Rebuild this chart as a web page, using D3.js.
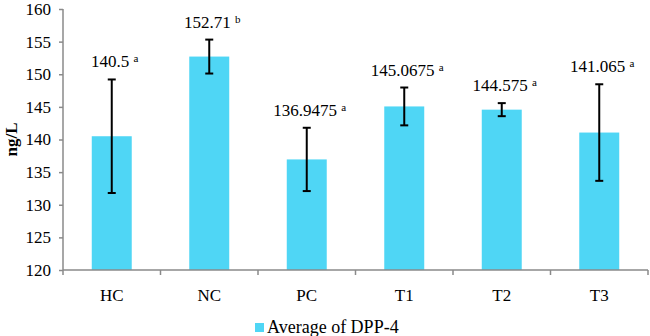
<!DOCTYPE html>
<html>
<head>
<meta charset="utf-8">
<script src="https://cdn.jsdelivr.net/npm/d3@7"></script>
<style>
  body { margin: 0; background: #fff; }
  svg text { font-family: "Liberation Serif", "Times New Roman", serif; }
</style>
</head>
<body>
<script>
const groups = ['HC', 'NC', 'PC', 'T1', 'T2', 'T3']
const means = [140.5, 152.71, 136.9475, 145.0675, 144.575, 141.065]
const errors = [8.7, 2.6, 4.85, 2.9, 1.0, 7.4]
const letters = ['a', 'b', 'a', 'a', 'a', 'a']
const yTicks = [120, 125, 130, 135, 140, 145, 150, 155, 160]
const seriesName = 'Average of DPP-4'

const W = 650, H = 336
const margin = { top: 9, right: 2, bottom: 66, left: 63 }
const width = W - margin.left - margin.right
const height = H - margin.top - margin.bottom
const barColor = '#4fd6f5'
const axisColor = '#8a8a8a'
const serif = '"Liberation Serif", "Times New Roman", serif'

const svg = d3.select('body').append('svg')
  .attr('width', W)
  .attr('height', H)
  .attr('font-family', serif)
const g = svg.append('g')
  .attr('transform', `translate(${margin.left} ${margin.top})`)

const x = d3.scaleBand()
  .domain(groups)
  .range([0, width])
  .paddingInner(0.59)
  .paddingOuter(0.295)
const y = d3.scaleLinear()
  .domain([120, 160])
  .range([height, 0])

// bars
g.selectAll('.bar')
  .data(groups)
  .enter().append('rect')
  .attr('class', 'bar')
  .attr('x', d => x(d))
  .attr('width', x.bandwidth())
  .attr('y', (d, i) => y(means[i]))
  .attr('height', (d, i) => height - y(means[i]))
  .style('fill', barColor)

// axes
const yAxis = g.append('g')
  .call(d3.axisLeft(y).tickValues(yTicks).tickSize(4).tickPadding(8))
  .attr('font-family', serif)
yAxis.selectAll('text').style('font-size', '17px').style('fill', '#000')
yAxis.selectAll('line, path').style('stroke', axisColor).style('stroke-width', 1.5)
yAxis.select('.domain').attr('d', `M0,${height}V0`)

const step = x.step()
const xAxis = g.append('g')
  .attr('transform', `translate(0, ${height})`)
xAxis.append('line')
  .attr('x1', 0).attr('x2', width)
  .style('stroke', axisColor).style('stroke-width', 1.5)
xAxis.selectAll('.tk')
  .data(d3.range(groups.length + 1))
  .enter().append('line')
  .attr('x1', i => i * step).attr('x2', i => i * step)
  .attr('y1', 0).attr('y2', 5)
  .style('stroke', axisColor).style('stroke-width', 1.5)
xAxis.selectAll('.lbl')
  .data(groups)
  .enter().append('text')
  .attr('x', d => x(d) + x.bandwidth() / 2)
  .attr('y', 31)
  .attr('text-anchor', 'middle')
  .style('font-size', '17px')
  .text(d => d)

// error bars
const eb = g.selectAll('.err')
  .data(groups)
  .enter().append('g')
  .attr('transform', d => `translate(${x(d) + x.bandwidth() / 2}, 0)`)
  .style('stroke', '#000')
  .style('stroke-width', 2)
eb.append('line')
  .attr('y1', (d, i) => y(means[i] + errors[i]))
  .attr('y2', (d, i) => y(means[i] - errors[i]))
eb.append('line')
  .attr('x1', -4).attr('x2', 4)
  .attr('y1', (d, i) => y(means[i] + errors[i]))
  .attr('y2', (d, i) => y(means[i] + errors[i]))
eb.append('line')
  .attr('x1', -4).attr('x2', 4)
  .attr('y1', (d, i) => y(means[i] - errors[i]))
  .attr('y2', (d, i) => y(means[i] - errors[i]))

// value labels
const lbl = g.selectAll('.val')
  .data(groups)
  .enter().append('text')
  .attr('x', d => x(d) + x.bandwidth() / 2 + 3)
  .attr('y', (d, i) => y(means[i] + errors[i]) - 12)
  .attr('text-anchor', 'middle')
  .style('font-size', '17px')
lbl.append('tspan').text((d, i) => means[i] + ' ')
lbl.append('tspan')
  .attr('dy', -5)
  .style('font-size', '11px')
  .text((d, i) => letters[i])

// y title
svg.append('text')
  .attr('transform', `translate(17, ${margin.top + height / 2}) rotate(-90)`)
  .attr('text-anchor', 'middle')
  .style('font-size', '17px')
  .style('font-weight', 'bold')
  .text('ng/L')

// legend
const leg = svg.append('g').attr('transform', 'translate(255, 323)')
leg.append('rect').attr('width', 9).attr('height', 9).style('fill', barColor)
leg.append('text')
  .attr('x', 12).attr('y', 9.5)
  .style('font-size', '18px')
  .text(seriesName)
</script>
</body>
</html>
